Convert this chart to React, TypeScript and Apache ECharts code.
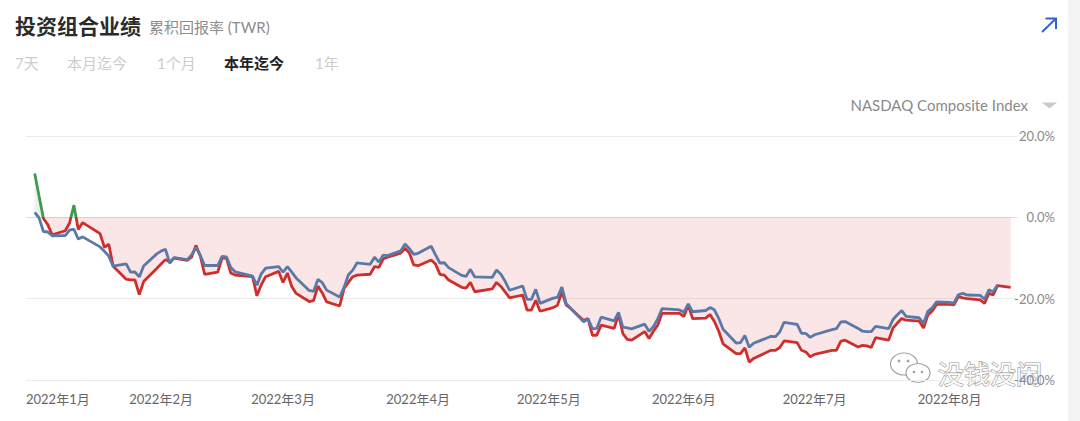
import React, { useEffect, useRef } from "react";
import * as echarts from "echarts";

// ---- Data (cumulative return %, 2022) ----
const janDays = [3, 4, 5, 6, 7, 10, 11, 12, 13, 14, 18, 19, 20, 21, 24, 25, 26, 27, 28, 31];
const janPortfolio = [10.8, 5.2, -0.3, -1.8, -4.3, -3.3, -1.4, 3.0, -3.0, -1.3, -4.0, -7.4, -6.6, -12.0, -15.2, -15.4, -15.4, -19.0, -15.8, -12.6];
const janNasdaq = [1.2, -0.14, -3.48, -3.61, -4.53, -4.49, -3.14, -2.92, -5.36, -4.8, -7.27, -8.34, -9.53, -11.99, -11.44, -13.46, -13.44, -14.65, -11.98, -8.98];

const febDays = [1, 2, 3, 4, 7, 8, 9, 10, 11, 14, 15, 16, 17, 18, 22, 23, 24, 25, 28];
const febPortfolio = [-11.5, -10.4, -11.0, -10.0, -10.6, -9.8, -6.9, -9.5, -14.0, -13.5, -10.0, -10.0, -13.7, -14.2, -14.6, -19.3, -16.6, -14.6, -13.3];
const febNasdaq = [-8.3, -7.85, -11.29, -9.89, -10.41, -9.27, -7.38, -9.33, -11.85, -11.85, -9.62, -9.72, -12.33, -13.4, -14.47, -16.67, -13.88, -12.47, -12.1];

const marDays = [1, 2, 3, 4, 7, 8, 9, 10, 11, 14, 15, 16, 17, 18, 21, 22, 23, 24, 25, 28, 29, 30, 31];
const marPortfolio = [-16.0, -13.7, -17.0, -18.7, -20.7, -20.5, -16.9, -18.6, -20.8, -21.8, -17.5, -16.0, -14.6, -14.2, -14.0, -12.1, -12.3, -10.2, -9.8, -8.8, -7.6, -8.8, -11.7];
const marNasdaq = [-13.5, -12.1, -13.47, -14.9, -17.99, -18.21, -15.27, -16.08, -17.9, -19.58, -17.23, -14.12, -12.98, -11.19, -11.55, -9.82, -11.01, -9.29, -9.43, -8.25, -6.55, -7.69, -9.1];

const aprDays = [1, 4, 5, 6, 7, 8, 11, 12, 13, 14, 18, 19, 20, 21, 22, 25, 26, 27, 28, 29];
const aprPortfolio = [-11.9, -10.5, -11.5, -14.0, -14.2, -15.4, -17.2, -17.4, -16.0, -18.3, -17.6, -16.0, -17.0, -18.4, -19.8, -19.1, -22.8, -22.8, -20.4, -23.1];
const aprNasdaq = [-8.84, -7.11, -9.21, -11.23, -11.17, -12.36, -14.27, -14.53, -12.79, -14.66, -14.78, -12.95, -14.01, -15.79, -17.93, -16.88, -20.16, -20.17, -17.73, -21.16];

const mayDays = [2, 3, 4, 5, 6, 9, 10, 11, 12, 13, 16, 17, 18, 19, 20, 23, 24, 25, 26, 27, 31];
const mayPortfolio = [-22.2, -21.6, -18.4, -21.6, -22.4, -25.4, -24.9, -29.0, -29.0, -26.5, -27.3, -23.9, -28.6, -30.0, -30.2, -28.1, -29.8, -28.0, -26.5, -23.6, -23.6];
const mayNasdaq = [-19.87, -19.69, -17.13, -21.27, -22.37, -25.71, -24.97, -27.36, -27.32, -24.54, -25.45, -23.4, -27.02, -27.21, -27.42, -26.27, -28.0, -26.91, -24.96, -22.46, -22.78];

const junDays = [1, 2, 3, 6, 7, 8, 9, 10, 13, 14, 15, 16, 17, 21, 22, 23, 24, 27, 28, 29, 30];
const junPortfolio = [-24.4, -21.6, -24.9, -24.8, -23.9, -25.6, -28.0, -31.1, -33.5, -33.5, -32.1, -35.6, -34.7, -32.7, -32.7, -32.0, -30.4, -30.8, -32.7, -33.1, -34.3];
const junNasdaq = [-23.33, -21.27, -23.22, -22.91, -22.18, -22.75, -24.87, -27.52, -30.91, -30.79, -29.06, -31.95, -30.98, -29.25, -29.35, -28.21, -25.81, -26.34, -28.53, -28.55, -29.51];

const julDays = [1, 5, 6, 7, 8, 11, 12, 13, 14, 15, 18, 19, 20, 21, 22, 25, 26, 27, 28, 29];
const julPortfolio = [-33.7, -32.7, -32.7, -30.5, -30.2, -31.9, -31.5, -31.6, -32.0, -29.6, -30.2, -27.2, -26.0, -24.9, -25.3, -25.5, -27.2, -24.0, -23.0, -21.4];
const julNasdaq = [-28.87, -27.63, -27.38, -25.72, -25.63, -27.31, -28.0, -28.11, -28.08, -26.8, -27.39, -25.13, -23.95, -22.92, -24.36, -24.69, -26.09, -23.09, -22.26, -20.8];

const augDays = [1, 2, 3, 4, 5, 8, 9, 10, 11, 12, 15];
const augPortfolio = [-21.4, -21.5, -19.5, -19.8, -20.0, -20.3, -21.2, -18.7, -19.1, -16.8, -17.2];
const augNasdaq = [-20.94, -21.07, -19.03, -18.69, -19.1, -19.18, -20.14, -17.83, -18.31, -16.6];

const YEAR = 2022;
const months = [
  { m: 1, days: janDays, p: janPortfolio, n: janNasdaq },
  { m: 2, days: febDays, p: febPortfolio, n: febNasdaq },
  { m: 3, days: marDays, p: marPortfolio, n: marNasdaq },
  { m: 4, days: aprDays, p: aprPortfolio, n: aprNasdaq },
  { m: 5, days: mayDays, p: mayPortfolio, n: mayNasdaq },
  { m: 6, days: junDays, p: junPortfolio, n: junNasdaq },
  { m: 7, days: julDays, p: julPortfolio, n: julNasdaq },
  { m: 8, days: augDays, p: augPortfolio, n: augNasdaq },
];

const tabs = ["7天", "本月迄今", "1个月", "本年迄今", "1年"];
const activeTab = "本年迄今";
const yTicks = { min: -40, max: 20, interval: 20 };
const benchmarkName = "NASDAQ Composite Index";

const RED = "#cf2f2c";
const GREEN = "#3f9a4a";
const BLUE = "#5b78a6";
const FONT = "Lato, 'Noto Sans CJK SC', sans-serif";

function buildPairs(key: "p" | "n") {
  const out: [number, number][] = [];
  months.forEach(({ m, days, p, n }) => {
    const vals = key === "p" ? p : n;
    vals.forEach((v, i) => {
      out.push([new Date(YEAR, m - 1, days[i]).getTime(), v]);
    });
  });
  return out;
}

export default function App() {
  const ref = useRef<HTMLDivElement>(null);

  useEffect(() => {
    if (!ref.current) return;
    const chart = echarts.init(ref.current, undefined, { renderer: "svg" });
    const portfolio = buildPairs("p");
    const nasdaq = buildPairs("n");

    const tabX = [15, 67, 157, 224, 315];
    const tabGraphics = tabs.map((t, i) => ({
      type: "text",
      x: tabX[i],
      y: 63,
      style: {
        text: t,
        fontSize: 15,
        fontFamily: FONT,
        fontWeight: t === activeTab ? "bold" : "normal",
        fill: t === activeTab ? "#222" : "#cdcdcd",
        align: "left",
        verticalAlign: "middle",
      },
    }));

    const option: any = {
      animation: false,
      backgroundColor: "#ffffff",
      textStyle: { fontFamily: FONT },
      grid: { left: 26, right: 63, top: 136, bottom: 41, containLabel: false },
      xAxis: {
        type: "time",
        min: new Date(YEAR, 0, 1).getTime(),
        max: new Date(YEAR, 7, 16, 11).getTime(),
        splitNumber: 8,
        axisLine: { show: true, lineStyle: { color: "#d6dcea", width: 1 } },
        axisTick: { show: false },
        splitLine: { show: false },
        axisLabel: {
          color: "#666",
          fontSize: 13,
          margin: 12,
          alignMinLabel: "left",
          showMinLabel: true,
          hideOverlap: false,
          formatter: (val: number) => {
            const d = new Date(val);
            return d.getDate() === 1 ? `${d.getFullYear()}年${d.getMonth() + 1}月` : "";
          },
        },
      },
      yAxis: {
        type: "value",
        position: "right",
        min: yTicks.min,
        max: yTicks.max,
        interval: yTicks.interval,
        axisLine: { show: false },
        axisTick: { show: false },
        splitLine: { lineStyle: { color: "#ebebeb", width: 1 } },
        axisLabel: {
          align: "right",
          margin: 38,
          color: "#8a8a8a",
          fontSize: 13,
          formatter: (v: number) => v.toFixed(1) + "%",
        },
      },
      visualMap: {
        show: false,
        type: "piecewise",
        seriesIndex: 0,
        dimension: 1,
        pieces: [
          { gt: 0, lte: 1000, color: GREEN },
          { gte: -1000, lte: 0, color: RED },
        ],
        outOfRange: { color: RED },
      },
      series: [
        {
          type: "line",
          name: "投资组合",
          data: portfolio,
          symbol: "none",
          lineStyle: { width: 2.8 },
          areaStyle: { opacity: 0.12 },
          z: 2,
        },
        {
          type: "line",
          name: benchmarkName,
          data: nasdaq,
          symbol: "none",
          lineStyle: { width: 2.8, color: BLUE },
          itemStyle: { color: BLUE },
          z: 3,
        },
      ],
      graphic: [
        {
          type: "rect",
          shape: { x: 1068, y: 0, width: 12, height: 421 },
          style: { fill: "#f4f4f4" },
          silent: true,
        },
        {
          type: "text",
          x: 15,
          y: 25,
          style: {
            text: "投资组合业绩",
            fontSize: 21,
            fontWeight: "bold",
            fontFamily: FONT,
            fill: "#2b2b2b",
            align: "left",
            verticalAlign: "middle",
          },
        },
        {
          type: "text",
          x: 149,
          y: 26.5,
          style: {
            text: "累积回报率 (TWR)",
            fontSize: 15,
            fontFamily: FONT,
            fill: "#8c8c8c",
            align: "left",
            verticalAlign: "middle",
          },
        },
        ...tabGraphics,
        {
          type: "text",
          x: 1028,
          y: 105,
          style: {
            text: benchmarkName,
            fontSize: 15,
            fontFamily: FONT,
            fill: "#8a8a8a",
            align: "right",
            verticalAlign: "middle",
          },
        },
        {
          type: "polygon",
          shape: { points: [[1042, 102.5], [1057, 102.5], [1049.5, 108.5]] },
          style: { fill: "#c9c9c9" },
        },
        {
          type: "line",
          shape: { x1: 1042, y1: 32, x2: 1056, y2: 18.5 },
          style: { stroke: "#2e63d0", lineWidth: 2 },
        },
        {
          type: "polyline",
          shape: { points: [[1045.5, 18.5], [1056, 18.5], [1056, 29]] },
          style: { stroke: "#2e63d0", lineWidth: 2, fill: "none" },
        },
        {
          type: "group",
          z: 100,
          children: [
            {
              type: "ellipse",
              shape: { cx: 904, cy: 364, rx: 13.5, ry: 11 },
              style: { fill: "rgba(255,255,255,0.9)", stroke: "#a3a3a3", lineWidth: 1.2 },
            },
            { type: "circle", shape: { cx: 899, cy: 361, r: 1.4 }, style: { fill: "#a3a3a3" } },
            { type: "circle", shape: { cx: 908, cy: 361, r: 1.4 }, style: { fill: "#a3a3a3" } },
            {
              type: "ellipse",
              shape: { cx: 918, cy: 373, rx: 12, ry: 9.5 },
              style: { fill: "rgba(255,255,255,0.95)", stroke: "#a3a3a3", lineWidth: 1.2 },
            },
            { type: "circle", shape: { cx: 914, cy: 372, r: 1.3 }, style: { fill: "#a3a3a3" } },
            { type: "circle", shape: { cx: 922, cy: 372, r: 1.3 }, style: { fill: "#a3a3a3" } },
            {
              type: "text",
              x: 938,
              y: 372,
              style: {
                text: "没钱没闲",
                fontSize: 26,
                fontFamily: "'Noto Sans CJK SC', sans-serif",
                fill: "rgba(255,255,255,0.95)",
                stroke: "#9a9a9a",
                lineWidth: 1.2,
                align: "left",
                verticalAlign: "middle",
              },
            },
          ],
        },
      ],
    };

    chart.setOption(option);
    return () => chart.dispose();
  }, []);

  return (
    <div
      ref={ref}
      style={{ position: "fixed", left: 0, top: 0, width: 1080, height: 421, background: "#fff" }}
    />
  );
}
